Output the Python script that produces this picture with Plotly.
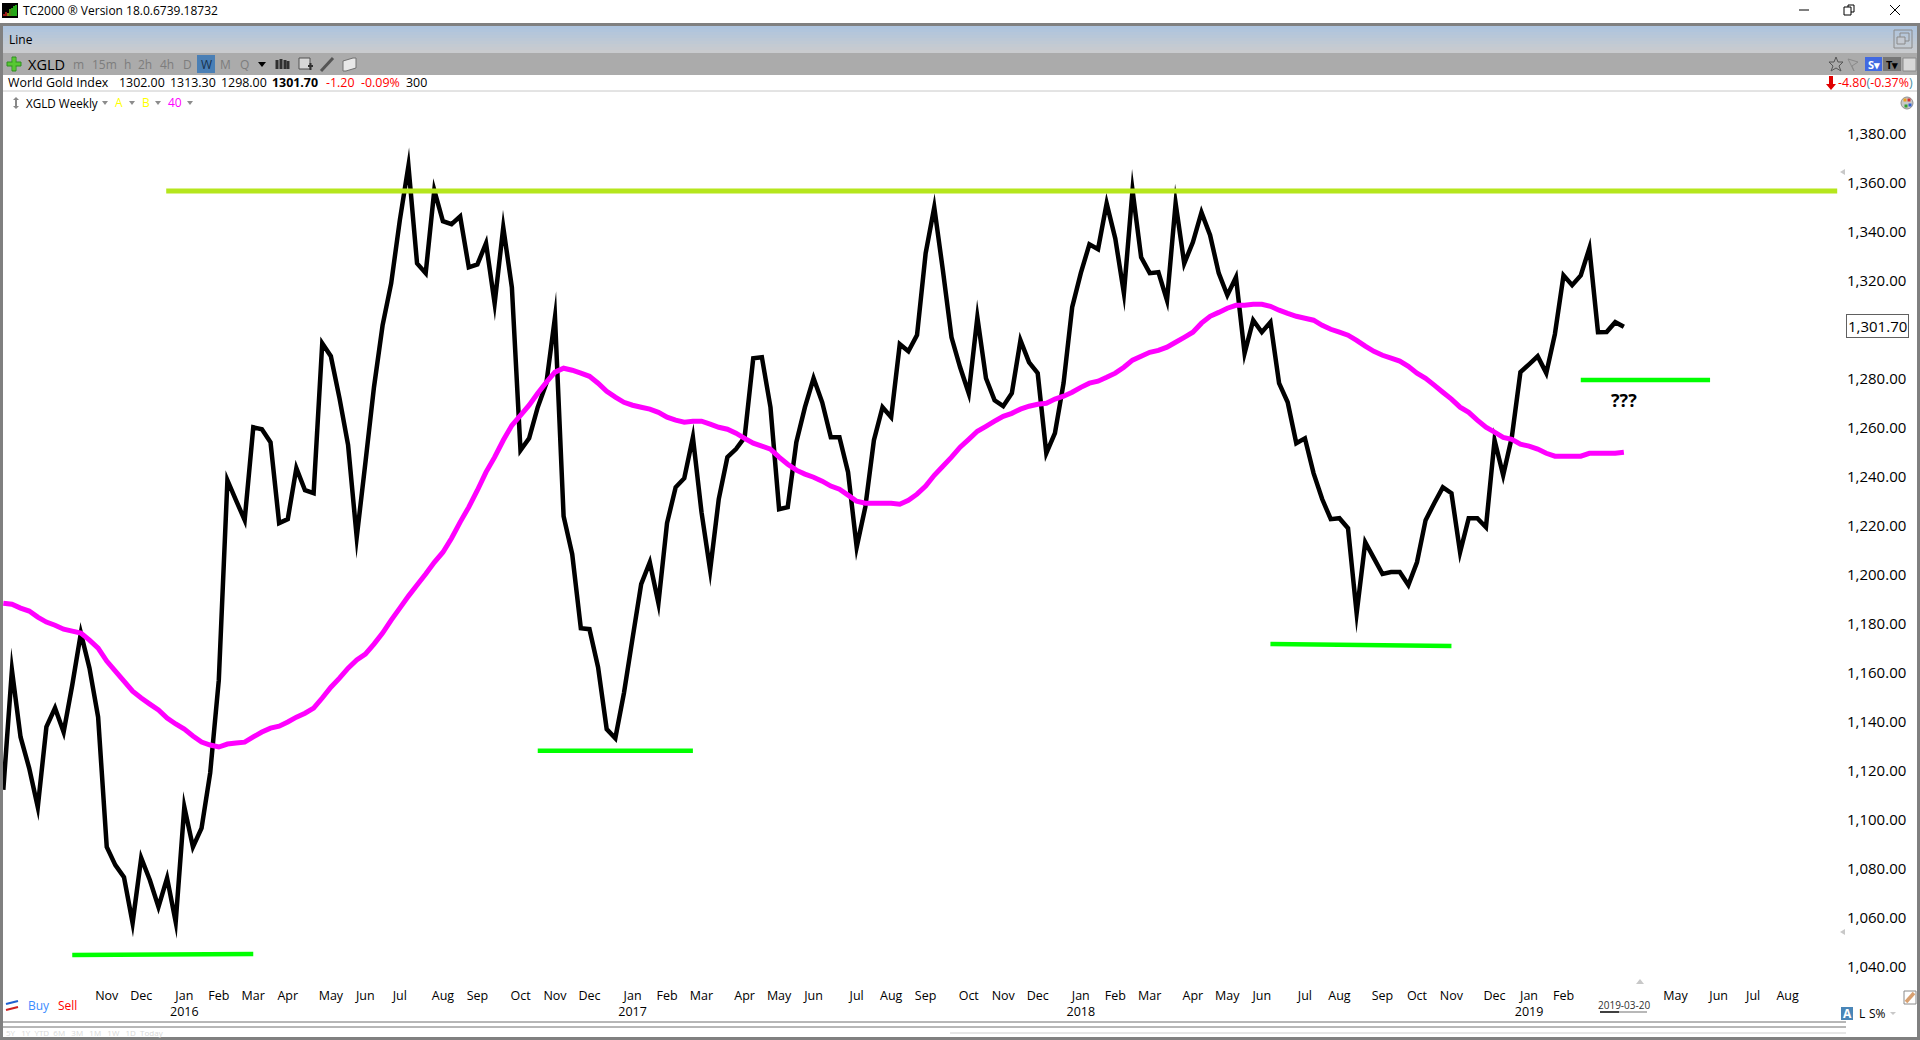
import pandas as pd
import plotly.graph_objects as go

price = [1112.7,1161.6,1134.3,1121.6,1105.7,1138.4,1146.1,1136.3,1155.5,1176.7,
1162.4,1142.4,1089.4,1082.0,1077.1,1058.4,1084.9,1075.9,1064.9,1076.7,
1058.8,1105.7,1089.4,1097.1,1119.6,1157.5,1239.1,1230.9,1222.8,1260.7,
1259.9,1254.6,1221.6,1223.2,1244.0,1235.0,1233.8,1295.0,1289.7,1272.6,
1253.4,1215.8,1246.0,1277.0,1302.3,1319.5,1345.2,1367.4,1327.6,1323.6,
1357.4,1344.8,1343.6,1346.8,1326.0,1327.2,1335.8,1311.3,1342.3,1317.8,
1251.3,1256.2,1268.9,1278.7,1305.6,1224.4,1208.9,1178.7,1178.3,1162.8,
1137.5,1133.8,1152.2,1174.6,1196.7,1205.6,1188.9,1221.6,1236.2,1239.9,
1256.6,1226.0,1202.4,1231.4,1248.5,1251.8,1256.6,1288.9,1289.3,1268.9,
1227.3,1228.1,1254.6,1268.9,1280.7,1270.9,1256.6,1256.6,1242.4,1211.8,
1228.1,1255.4,1268.9,1264.8,1294.6,1291.7,1298.3,1331.7,1350.5,1324.8,
1297.4,1285.2,1274.6,1305.6,1280.7,1271.7,1269.3,1274.6,1296.2,1287.2,
1282.8,1250.1,1258.3,1278.7,1309.7,1323.6,1335.4,1333.4,1352.1,1337.8,
1315.4,1357.4,1330.1,1323.6,1324.0,1312.5,1352.1,1327.6,1336.2,1348.4,
1339.1,1323.6,1314.6,1321.9,1290.9,1304.4,1299.5,1303.6,1278.7,1270.9,
1254.2,1256.2,1242.0,1231.4,1223.2,1223.6,1219.5,1184.8,1213.8,1207.3,
1200.8,1201.6,1201.6,1196.3,1205.6,1222.8,1229.7,1236.2,1233.8,1209.7,
1223.6,1223.6,1219.9,1255.4,1241.1,1256.6,1283.2,1286.4,1289.7,1282.8,
1298.7,1322.7,1318.7,1322.7,1333.8,1299.5,1299.6,1303.6,1301.7]

ma40 = [1188.9,1188.5,1186.9,1185.7,1183.2,1181.2,1179.9,1178.3,1177.5,1176.7,
1173.8,1170.6,1165.3,1161.2,1157.1,1153.0,1150.2,1147.7,1145.3,1142.0,
1139.6,1137.5,1134.7,1132.2,1131.0,1130.2,1131.4,1131.8,1132.2,1134.3,
1136.3,1137.9,1138.7,1140.4,1142.4,1144.0,1146.1,1150.2,1154.6,1158.3,
1162.4,1165.7,1168.1,1172.2,1176.7,1182.0,1186.9,1191.8,1196.3,1200.8,
1205.6,1209.7,1215.4,1222.0,1228.1,1235.0,1242.4,1248.5,1255.4,1261.5,
1265.6,1269.7,1274.6,1279.1,1283.2,1284.8,1284.0,1282.8,1281.5,1278.7,
1275.4,1273.0,1270.9,1269.7,1268.9,1268.1,1266.8,1264.8,1263.6,1262.8,
1263.2,1263.2,1262.0,1260.7,1259.9,1258.3,1256.2,1254.2,1253.0,1251.8,
1248.5,1245.6,1243.2,1241.6,1240.3,1238.7,1236.7,1235.4,1233.0,1230.5,
1229.7,1229.7,1229.7,1229.7,1229.3,1230.9,1233.4,1236.7,1241.1,1244.8,
1248.5,1252.6,1255.8,1259.1,1261.1,1263.2,1265.2,1266.4,1268.1,1269.3,
1270.1,1270.5,1272.2,1273.4,1275.0,1277.0,1278.7,1279.5,1281.1,1282.8,
1285.2,1288.1,1289.7,1291.3,1292.1,1293.4,1295.4,1297.4,1299.5,1303.2,
1306.0,1307.6,1309.3,1310.5,1310.5,1310.9,1310.9,1310.1,1308.5,1307.2,
1306.0,1305.2,1304.4,1302.3,1300.7,1299.5,1298.3,1296.2,1293.8,1291.7,
1290.1,1288.9,1287.7,1285.6,1282.8,1280.7,1277.9,1275.0,1272.2,1268.9,
1266.8,1263.6,1260.7,1258.7,1256.6,1255.8,1253.8,1253.0,1251.8,1250.1,
1248.9,1248.9,1248.9,1248.9,1250.1,1250.1,1250.1,1250.1,1250.5]

month_labels = ["Nov","Dec","Jan<br>2016","Feb","Mar","Apr","May","Jun","Jul","Aug","Sep","Oct","Nov","Dec",
 "Jan<br>2017","Feb","Mar","Apr","May","Jun","Jul","Aug","Sep","Oct","Nov","Dec",
 "Jan<br>2018","Feb","Mar","Apr","May","Jun","Jul","Aug","Sep","Oct","Nov","Dec",
 "Jan<br>2019","Feb","May","Jun","Jul","Aug"]
month_weeks = [12,16,21,25,29,33,38,42,46,51,55,60,64,68,73,77,81,86,90,94,99,103,107,112,116,120,
 125,129,133,138,142,146,151,155,160,164,168,173,177,181,194,199,203,207]
price_ticks = list(range(1040, 1381, 20))

resistance_weeks, resistance_level = (18.9, 212.75), (1357.1, 1357.1)
support_weeks = [(8, 29), (62, 80), (147, 168), (183, 198)]
support_levels = [(1045.3, 1045.7), (1128.7, 1128.7), (1172.2, 1171.4), (1280.0, 1280.0)]

start = pd.Timestamp("2015-08-10")
dates = pd.date_range(start, periods=len(price), freq="7D")
W, H = 1920, 1040
PLOT_L, PLOT_R, PLOT_T, PLOT_B = 3, 1846, 95, 985
def px(x): return x / W
def py(y): return 1 - y / H
def wk(i): return (start + pd.Timedelta(days=i * 7)).strftime("%Y-%m-%d %H:%M")

fig = go.Figure()
fig.add_trace(go.Scatter(x=dates, y=price, mode="lines", name="XGLD",
    line=dict(color="#000000", width=4.5, simplify=False)))
fig.add_trace(go.Scatter(x=dates, y=ma40, mode="lines", name="40 MA",
    line=dict(color="#ff00ff", width=5, simplify=False)))
for wks, lv in zip(support_weeks, support_levels):
    fig.add_trace(go.Scatter(x=[wk(wks[0]), wk(wks[1])], y=list(lv), mode="lines",
        line=dict(color="#00ff00", width=4.5)))
fig.add_trace(go.Scatter(x=[wk(resistance_weeks[0]), wk(resistance_weeks[1])], y=list(resistance_level),
    mode="lines", line=dict(color="#b5e61d", width=5)))

shapes, notes = [], []
FONT = "Open Sans, Noto Sans, sans-serif"
def rect(x0, y0, x1, y1, fill, line=None, lw=1):
    shapes.append(dict(type="rect", xref="paper", yref="paper", x0=px(x0), x1=px(x1), y0=py(y0), y1=py(y1),
        fillcolor=fill, line=dict(color=line or fill, width=lw if line else 0), layer="above"))
def seg(x0, y0, x1, y1, color, lw=1):
    shapes.append(dict(type="line", xref="paper", yref="paper", x0=px(x0), x1=px(x1), y0=py(y0), y1=py(y1),
        line=dict(color=color, width=lw), layer="above"))
def poly(points, fill, line=None, lw=1):
    d = "M " + " L ".join(f"{px(a):.5f},{py(b):.5f}" for a, b in points) + " Z"
    shapes.append(dict(type="path", xref="paper", yref="paper", path=d, fillcolor=fill,
        line=dict(color=line or fill, width=lw if line else 0), layer="above"))
def label(x, y, text, size=12.4, color="#000000", anchor="left", bold=False, bg=None, border=None):
    notes.append(dict(xref="paper", yref="paper", x=px(x), y=py(y), text=f"<b>{text}</b>" if bold else text,
        showarrow=False, xanchor=anchor, yanchor="middle", borderpad=0 if not border else 1,
        font=dict(family=FONT, size=size, color=color), bgcolor=bg,
        bordercolor=border, borderwidth=1 if border else 0))

# window frame
rect(0, 23, 1920, 26, "#808080")
rect(0, 23, 3, 1040, "#808080")
rect(1917, 23, 1920, 1040, "#808080")
rect(0, 1037, 1920, 1040, "#808080")
# header band gradient
band_cols = ["#aec4de","#b1c5dc","#b5c6da","#b8c7d8","#bcc8d6","#bfc9d4","#c3cad2","#c6cad0","#c9cbce"]
for n, c in enumerate(band_cols):
    rect(3, 26 + n * 3, 1917, 29 + n * 3, c)
rect(3, 53, 1917, 75, "#ababab")
seg(3, 91, 1917, 91, "#c8c8c8", 1)
seg(3, 1022, 1846, 1022, "#6e6e6e", 1)
seg(3, 1027, 1846, 1027, "#6e6e6e", 1)
seg(950, 1033, 1846, 1033, "#e6e6e6", 2)

# title bar
rect(2, 3, 18, 18, "#000000")
for bx, by, bc in [(4,14,"#d02020"),(6,12,"#d02020"),(8,13,"#b0b020"),(10,9,"#60c020"),(12,8,"#40d020"),(14,6,"#30e020"),(16,5,"#30e020")]:
    seg(bx, 16, bx, by, bc, 1.5)
label(23, 11, "TC2000 ® Version 18.0.6739.18732", 12)
seg(1799, 10, 1809, 10, "#000000", 1)
rect(1848, 5, 1854, 12, "rgba(0,0,0,0)", "#000000", 1)
rect(1844, 7, 1851, 15, "#ffffff", "#000000", 1)
seg(1890, 5, 1900, 15, "#000000", 1)
seg(1900, 5, 1890, 15, "#000000", 1)

# band content
label(9, 40, "Line", 12)
rect(1894, 30, 1912, 48, "rgba(0,0,0,0)", "#8a8a8a", 1)
rect(1900, 33, 1909, 41, "rgba(0,0,0,0)", "#8a8a8a", 1)
rect(1897, 37, 1905, 44, "#c5cad2", "#8a8a8a", 1)

# toolbar
rect(12, 57, 16, 71, "#58c832", "#2f8f20", 1)
rect(7, 62, 21, 66, "#58c832", "#2f8f20", 1)
rect(12.5, 58, 15.5, 70, "#58c832")
label(28, 64, "XGLD", 14.5)
for tx, t in [(78,"m"),(104,"15m"),(127,"h"),(145,"2h"),(167,"4h"),(187,"D"),(225,"M"),(244,"Q")]:
    label(tx, 64, t, 12, "#7d7d7d", "center")
rect(197, 55, 215, 73, "#4a7fb5")
label(206, 64, "W", 12, "#17324d", "center")
poly([(258, 62), (266, 62), (262, 67)], "#000000")
for bx, t, b in [(277,60,69),(281,59,69),(285,60,69),(288,61,69)]:
    seg(bx, t, bx, b, "#303030", 3)
rect(299, 58, 310, 69, "#d8d8d8", "#505050", 1)
seg(308, 66, 313, 66, "#303030", 2)
seg(310.5, 63, 310.5, 70, "#303030", 2)
seg(321, 71, 333, 58, "#555555", 3)
poly([(343, 61), (353, 58), (356, 58), (356, 68), (346, 71), (343, 71)], "#e8e8e8", "#707070", 1)
poly([(1836, 57), (1838, 62), (1843, 62), (1839, 66), (1841, 71), (1836, 68), (1831, 71), (1833, 66), (1829, 62), (1834, 62)], "rgba(0,0,0,0)", "#555555", 1)
poly([(1848, 59), (1858, 62), (1852, 66), (1854, 71)], "rgba(0,0,0,0)", "#8a8a8a", 1)
rect(1865, 57, 1882, 71, "#4169e1")
label(1873.5, 64, "S▾", 11, "#ffffff", "center", True)
rect(1883, 57, 1901, 71, "#777777")
label(1892, 64, "T▾", 11, "#000000", "center", True)
rect(1903, 58, 1916, 71, "#d8d8d8", "#8a8a8a", 1)

# info row
label(8, 83, "World Gold Index")
for tx, t in [(119,"1302.00"),(170,"1313.30"),(221,"1298.00")]:
    label(tx, 83, t)
label(272, 83, "1301.70", bold=True)
label(326, 83, "-1.20", 12.4, "#ff0000")
label(361, 83, "-0.09%", 12.4, "#ff0000")
label(406, 83, "300")
poly([(1829, 76), (1833, 76), (1833, 84), (1836, 84), (1831, 90), (1826, 84), (1829, 84)], "#e00000")
label(1838, 83, '<span style="color:#ff0000">-4.80</span><span style="color:#4a90a4">(</span><span style="color:#ff0000">-0.37%</span><span style="color:#4a90a4">)</span>')

# chart header row
poly([(16, 97), (19, 100), (13, 100)], "#888888")
poly([(16, 109), (19, 106), (13, 106)], "#888888")
seg(16, 100, 16, 106, "#888888", 2)
label(26, 103, "XGLD Weekly", 11.7)
label(115, 103, "A", 12, "#ffff00")
label(142, 103, "B", 12, "#ffff00")
label(168, 103, "40", 12, "#ff00ff")
for tx in [105, 132, 158, 190]:
    poly([(tx - 3, 101), (tx + 3, 101), (tx, 105)], "#8c8c8c")
shapes.append(dict(type="circle", xref="paper", yref="paper", x0=px(1901), x1=px(1913), y0=py(109), y1=py(97),
    fillcolor="#c8c8c8", line=dict(color="#909090", width=1), layer="above"))
for dx, dy, c in [(1905,100,"#e8a020"),(1909,100,"#d03030"),(1910,105,"#3060d0"),(1906,106,"#30a030")]:
    rect(dx - 1.5, dy - 1.5, dx + 1.5, dy + 1.5, c)

# scroll markers
poly([(1840, 172), (1845, 169), (1845, 175)], "#c8c8c8")
poly([(1840, 932), (1845, 929), (1845, 935)], "#c8c8c8")
poly([(1636, 984), (1644, 984), (1640, 979)], "#c8c8c8")

# bottom strip
seg(6, 1004, 18, 1001, "#2060d0", 2)
seg(6, 1010, 18, 1007, "#d02020", 2)
label(28, 1005, "Buy", 12, "#3a8cff")
label(58, 1005, "Sell", 12, "#ff0000")
label(6, 1032.5, "5Y&nbsp;&nbsp;&nbsp;1Y&nbsp;&nbsp;YTD&nbsp;&nbsp;6M&nbsp;&nbsp;&nbsp;3M&nbsp;&nbsp;&nbsp;1M&nbsp;&nbsp;&nbsp;1W&nbsp;&nbsp;&nbsp;1D&nbsp;&nbsp;Today", 8, "#d8d8d8")
label(1623.5, 1005, "2019-03-20", 10, "#303030", "center")
seg(1600, 1012, 1619, 1012, "#000000", 1.5)
seg(1619, 1012, 1647, 1012, "#a0a0a0", 1.5)
rect(1841, 1007, 1853, 1020, "#4a86b8")
label(1847, 1013.5, "A", 12, "#ffffff", "center", True)
label(1859, 1013.5, "L", 12)
label(1869, 1013.5, "S%", 12)
poly([(1890, 1012), (1896, 1012), (1893, 1015)], "#c8c8c8")
rect(1904, 991, 1916, 1004, "#ffffff", "#8a8a8a", 1)
seg(1906, 1002, 1914, 993, "#d8a070", 3.5)

# chart texts
notes.append(dict(x=wk(188), y=1271.7, xref="x", yref="y", text="<b>???</b>", showarrow=False,
    xanchor="center", yanchor="middle", font=dict(family=FONT, size=18, color="#000000")))
label(1877, 326, "1,301.70", 15, "#000000", "center", bg="#ffffff", border="#606060")

x_lo = start + pd.Timedelta(days=(PLOT_L - 3.3) * 7 / 8.62)
x_hi = start + pd.Timedelta(days=(PLOT_R - 3.3) * 7 / 8.62)
y_at = lambda p: 1040 + (968 - p) / 2.45

fig.update_layout(
    width=W, height=H, margin=dict(l=0, r=0, t=0, b=0), autosize=False,
    paper_bgcolor="#ffffff", plot_bgcolor="#ffffff", showlegend=False, hovermode=False,
    font=dict(family=FONT, color="#000000"),
    shapes=shapes, annotations=notes,
    xaxis=dict(domain=[px(PLOT_L), px(PLOT_R)], type="date", range=[x_lo, x_hi], tickmode="array",
        tickvals=[wk(i) for i in month_weeks], ticktext=month_labels, tickangle=0, ticks="",
        showgrid=False, zeroline=False, showline=False, tickfont=dict(size=12.5, family=FONT),
        ticklabelstandoff=1),
    yaxis=dict(domain=[py(PLOT_B), py(PLOT_T)], side="right", range=[y_at(PLOT_B), y_at(PLOT_T)],
        tickmode="array", tickvals=price_ticks, tickformat=",.2f", ticks="",
        showgrid=False, zeroline=False, showline=False, tickfont=dict(size=15, family=FONT),
        ticklabelshift=-1),
)
fix = """
document.body.style.margin='0';document.body.style.overflow='hidden';
var st=document.createElement('style');
st.textContent='.scatterlayer .js-line{stroke-linejoin:miter !important;stroke-miterlimit:40 !important;}';
document.head.appendChild(st);
"""
fig.write_html("out.html", post_script=fix, config={"displayModeBar": False})
